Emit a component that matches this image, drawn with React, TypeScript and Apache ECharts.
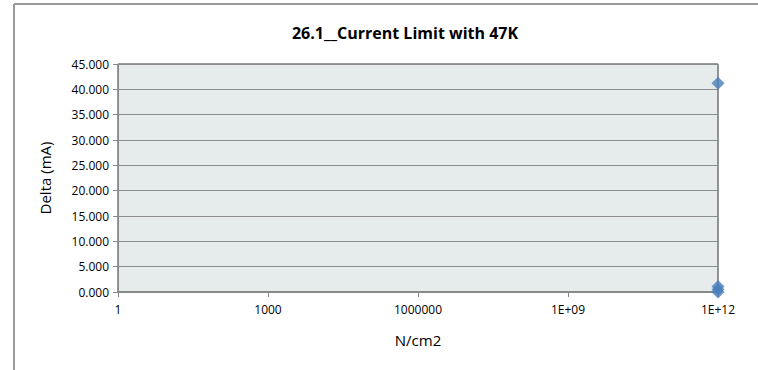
import React, { useEffect, useRef } from "react";
import * as echarts from "echarts";

const titleText = "26.1__Current Limit with 47K";
const xName = "N/cm2";
const yName = "Delta (mA)";
const fluence = [1e12, 1e12, 1e12, 1e12];
const deltaMA = [41.2, 1.1, 0.5, 0.0];
const yTicks = { min: 0, max: 45, interval: 5 };
const xRange = { min: 1, max: 1e12, logBase: 1000 };

const FONT = "'Open Sans', 'Liberation Sans', Arial, sans-serif";

export default function App() {
  const ref = useRef<HTMLDivElement>(null);
  useEffect(() => {
    if (!ref.current) return;
    const chart = echarts.init(ref.current, undefined, { renderer: "svg" });
    chart.setOption({
      animation: false,
      backgroundColor: "#ffffff",
      textStyle: { fontFamily: FONT },
      title: {
        text: titleText,
        left: 400,
        textAlign: "center",
        top: 20,
        textStyle: { fontSize: 16, fontWeight: "bold", color: "#000", fontFamily: FONT },
      },
      graphic: [
        { type: "line", shape: { x1: 14, y1: 4, x2: 758, y2: 4 }, style: { stroke: "#9a9a9a", lineWidth: 2 } },
        { type: "line", shape: { x1: 14, y1: 4, x2: 14, y2: 370 }, style: { stroke: "#9a9a9a", lineWidth: 2 } },
      ],
      grid: {
        left: 118,
        right: 40,
        top: 64,
        bottom: 78,
        show: true,
        backgroundColor: "#E6ECEC",
        borderColor: "#333",
        borderWidth: 1,
      },
      xAxis: {
        type: "log",
        logBase: xRange.logBase,
        min: xRange.min,
        max: xRange.max,
        name: xName,
        nameLocation: "middle",
        nameGap: 40,
        nameTextStyle: { fontSize: 15, color: "#000", fontFamily: FONT },
        axisLine: { show: true, lineStyle: { color: "#888", width: 2 } },
        axisTick: { show: true, length: 5, lineStyle: { color: "#888" } },
        splitLine: { show: false },
        minorTick: { show: false },
        axisLabel: {
          fontSize: 12,
          color: "#000",
          margin: 11,
          formatter: (v: number) => {
            const e = Math.round(Math.log10(v));
            if (e >= 9) return "1E+" + (e < 10 ? "0" + e : String(e));
            return String(Math.round(v));
          },
        },
      },
      yAxis: {
        type: "value",
        min: yTicks.min,
        max: yTicks.max,
        interval: yTicks.interval,
        name: yName,
        nameLocation: "middle",
        nameGap: 66,
        nameTextStyle: { fontSize: 15, color: "#000", fontFamily: FONT },
        axisLine: { show: true, lineStyle: { color: "#888", width: 1 } },
        axisTick: { show: true, length: 5, lineStyle: { color: "#888" } },
        splitLine: { show: true, lineStyle: { color: "#8c8c8c", width: 1 } },
        axisLabel: {
          fontSize: 12,
          color: "#000",
          margin: 9,
          formatter: (v: number) => v.toFixed(3),
        },
      },
      series: [
        {
          type: "scatter",
          symbol: "diamond",
          symbolSize: 13,
          clip: false,
          itemStyle: { color: "#4A7EBB" },
          data: fluence.map((x, i) => [x, deltaMA[i]]),
        },
      ],
    });
    return () => chart.dispose();
  }, []);
  return (
    <div
      ref={ref}
      style={{ position: "absolute", left: 0, top: 0, width: 758, height: 370 }}
    />
  );
}
